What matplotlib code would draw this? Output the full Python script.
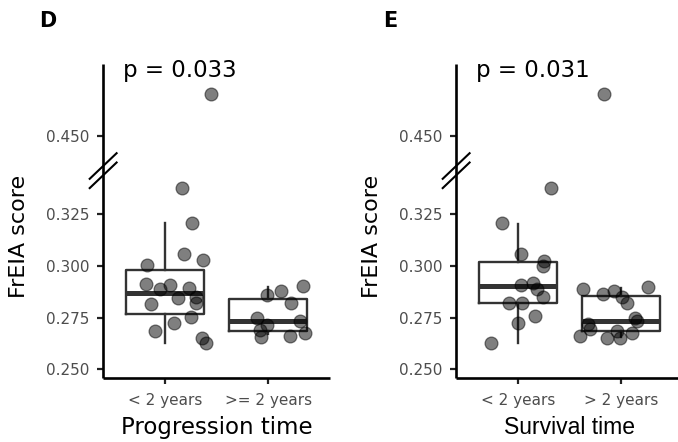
import numpy as np
import matplotlib
matplotlib.use("Agg")
from matplotlib import pyplot as plt

# ── data ─────────────────────────────────────────────────────────────────────
GROUPS_D = ['< 2 years', '>= 2 years']
GROUPS_E = ['< 2 years', '> 2 years']
Y_TICKS = [0.250, 0.275, 0.300, 0.325, 0.450]

# jittered x positions (category units) and FrEIA scores of each point
d_x = [1.259, 1.187, 1.366, 0.822, 0.813, 0.951, 1.049, 1.236, 1.129, 1.301,
       1.301, 0.864, 1.252, 1.087, 0.903, 1.356, 1.395, 1.162, 1.447,
       1.993, 2.126, 2.337, 2.223, 1.890, 2.311, 1.987, 1.922, 1.930, 2.214,
       2.359]
d_y = [0.3205, 0.3058, 0.3027, 0.3003, 0.2914, 0.2890, 0.2908, 0.2893, 0.2845,
       0.2850, 0.2820, 0.2816, 0.2755, 0.2723, 0.2686, 0.2653, 0.2626, 0.3376,
       0.4704,
       0.2861, 0.2880, 0.2901, 0.2820, 0.2748, 0.2735, 0.2712, 0.2691, 0.2658,
       0.2663, 0.2675]

e_x = [0.842, 1.029, 1.252, 1.240, 1.026, 1.149, 1.182, 1.246, 0.916, 1.036,
       1.168, 0.997, 0.738, 1.323,
       1.634, 1.828, 1.932, 2.007, 2.061, 2.259, 2.136, 2.155, 1.683, 1.699,
       1.602, 1.861, 1.958, 1.990, 2.104, 1.835]
e_y = [0.3206, 0.3057, 0.3024, 0.3000, 0.2908, 0.2915, 0.2887, 0.2847, 0.2822,
       0.2819, 0.2757, 0.2725, 0.2625, 0.3376,
       0.2890, 0.2863, 0.2879, 0.2847, 0.2819, 0.2900, 0.2750, 0.2732, 0.2717,
       0.2693, 0.2660, 0.2653, 0.2685, 0.2653, 0.2677, 0.4704]

# box statistics per group (q1, median, q3, whisker low, whisker high)
d_q1, d_med, d_q3 = [0.2768, 0.2686], [0.2869, 0.2731], [0.2982, 0.2840]
d_lo, d_hi = [0.2626, 0.2670], [0.3205, 0.2898]
e_q1, e_med, e_q3 = [0.2818, 0.2685], [0.2903, 0.2733], [0.3019, 0.2855]
e_lo, e_hi = [0.2628, 0.2655], [0.3202, 0.2895]

P_D, P_E = 'p = 0.033', 'p = 0.031'

# ── broken y axis as a piecewise-linear scale ────────────────────────────────
BRK_LO, BRK_HI, SQ = 0.346, 0.4335, 0.001


def fwd(y):
    y = np.asarray(y, dtype=float)
    mid = BRK_LO + (y - BRK_LO) * SQ
    top = BRK_LO + (BRK_HI - BRK_LO) * SQ + (y - BRK_HI)
    return np.where(y <= BRK_LO, y, np.where(y < BRK_HI, mid, top))


def inv(t):
    t = np.asarray(t, dtype=float)
    t_hi = BRK_LO + (BRK_HI - BRK_LO) * SQ
    mid = BRK_LO + (t - BRK_LO) / SQ
    top = t - t_hi + BRK_HI
    return np.where(t <= BRK_LO, t, np.where(t < t_hi, mid, top))


W, H = 678, 442
fig = plt.figure(figsize=(W / 100, H / 100), dpi=100)

TICK_FONT = dict(family='DejaVu Sans', size=11, color='#4D4D4D')
BOX_COL = '#333333'


def px_rect(left, top, right, bottom):
    return [left / W, 1 - bottom / H, (right - left) / W, (bottom - top) / H]


def panel(rect, xs, ys, q1, med, q3, lo, hi, groups, xlabel, xfont, ptext):
    ax = fig.add_axes(rect)
    ax.set_yscale('function', functions=(fwd, inv))

    stats = [dict(q1=q1[i], med=med[i], q3=q3[i], whislo=lo[i], whishi=hi[i],
                  fliers=[]) for i in range(len(groups))]
    ax.bxp(stats, positions=[1, 2], widths=0.76, showcaps=False,
           showfliers=False, patch_artist=False,
           boxprops=dict(color=BOX_COL, linewidth=1.7),
           whiskerprops=dict(color=BOX_COL, linewidth=1.7),
           medianprops=dict(color=BOX_COL, linewidth=3.6, solid_capstyle='butt'),
           zorder=2)

    ax.scatter(xs, ys, s=85, facecolor='black', edgecolor='black',
               linewidth=0.9, alpha=0.5, zorder=3)

    ax.set_xlim(0.4, 2.6)
    ax.set_ylim(0.2458, 0.4849)
    ax.set_yticks(Y_TICKS)
    ax.set_yticklabels([f'{v:.3f}' for v in Y_TICKS], fontdict=TICK_FONT)
    ax.set_xticks([1, 2])
    ax.set_xticklabels(groups, fontdict=TICK_FONT)
    ax.yaxis.set_minor_locator(matplotlib.ticker.NullLocator())

    for s in ('top', 'right'):
        ax.spines[s].set_visible(False)
    for s in ('left', 'bottom'):
        ax.spines[s].set_linewidth(1.9)
        ax.spines[s].set_color('black')
        ax.spines[s].set_capstyle('butt')
    ax.tick_params(axis='both', length=4.5, width=1.6, color='#222222')
    ax.tick_params(axis='y', pad=5)
    ax.tick_params(axis='x', pad=6.5)

    ax.set_ylabel('FrEIA score', fontsize=16, family='DejaVu Sans')
    ax.yaxis.set_label_coords(-0.370, 0.4506)
    ax.yaxis.label.set_verticalalignment('center')

    ax.set_xlabel(xlabel, fontsize=16.5, family=xfont)
    ax.xaxis.set_label_coords(0.5, -0.179)
    ax.xaxis.label.set_verticalalignment('baseline')

    ax.text(20 / 227, (378 - 77.3) / 314, ptext, transform=ax.transAxes,
            ha='left', va='baseline', fontsize=16.5, family='DejaVu Sans')

    # the // break mark across the y axis
    for cy in (166.0, 175.3):
        xx = np.array([-13.3, 13.6]) / 227
        yy = (378 - (cy + np.array([12.8, -12.8]))) / 314
        ax.plot(xx, yy, color='black', linewidth=1.5, transform=ax.transAxes,
                clip_on=False, zorder=5)
    return ax


panel(px_rect(103, 64, 330, 378), d_x, d_y, d_q1, d_med, d_q3, d_lo, d_hi,
      GROUPS_D, 'Progression time', 'DejaVu Sans', P_D)
panel(px_rect(456, 64, 683, 378), e_x, e_y, e_q1, e_med, e_q3, e_lo, e_hi,
      GROUPS_E, 'Survival time', 'Liberation Sans', P_E)

fig.text(39 / W, 1 - 27 / H, 'D', fontsize=15, fontweight='bold',
         family='DejaVu Sans', va='baseline', ha='left')
fig.text(383 / W, 1 - 27 / H, 'E', fontsize=15, fontweight='bold',
         family='DejaVu Sans', va='baseline', ha='left')

fig.savefig('out.png', dpi=100)
